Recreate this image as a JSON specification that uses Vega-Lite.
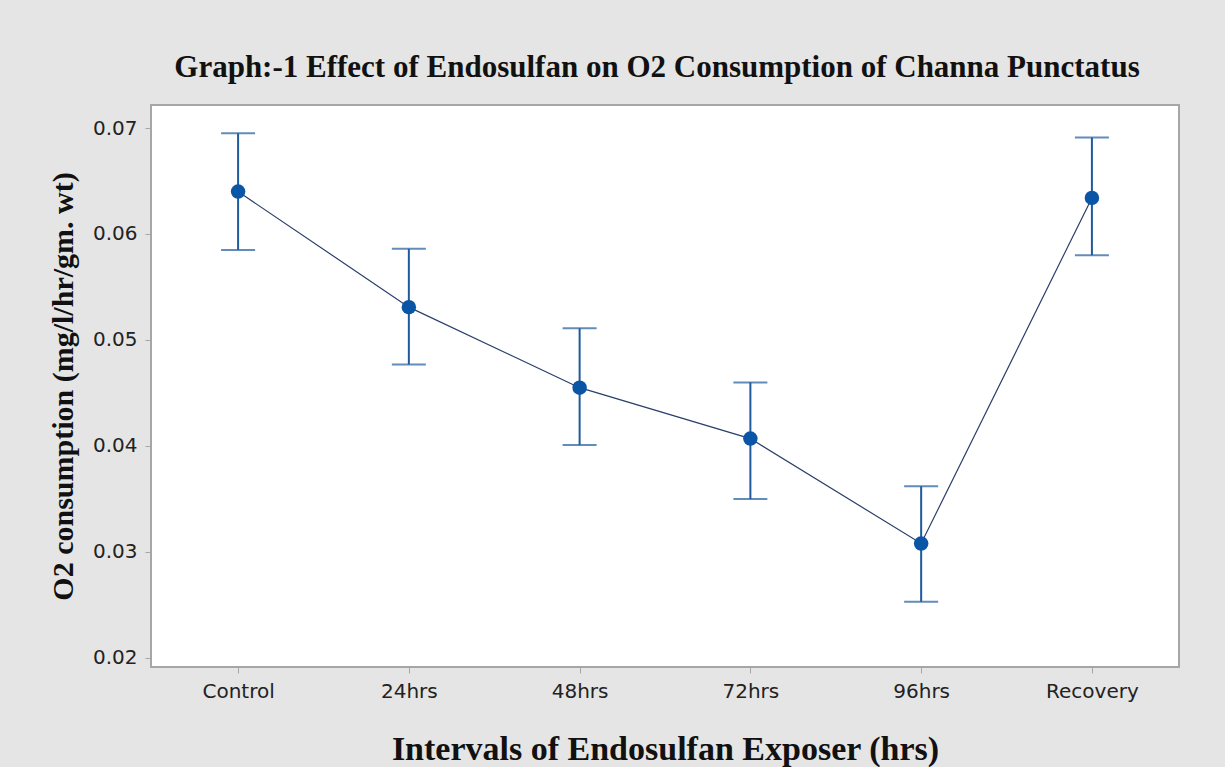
{
  "$schema": "https://vega.github.io/schema/vega-lite/v6.json",
  "autosize": {"type": "none"},
  "width": 1028,
  "height": 562,
  "padding": {"left": 151, "top": 105, "right": 46, "bottom": 100},
  "background": "#e5e5e5",
  "title": {
    "text": "Graph:-1 Effect of Endosulfan on O2 Consumption of Channa Punctatus",
    "font": "Liberation Serif",
    "fontSize": 31,
    "fontWeight": "bold",
    "color": "#111111",
    "anchor": "middle",
    "dx": -8,
    "offset": 21
  },
  "config": {
    "view": {"fill": "white", "stroke": "#a6a6a6", "strokeWidth": 2},
    "axis": {
      "labelFont": "DejaVu Sans",
      "labelFontSize": 20,
      "labelColor": "#222222",
      "tickColor": "#a6a6a6",
      "tickSize": 6,
      "domain": false,
      "grid": false,
      "titleFont": "Liberation Serif",
      "titleFontWeight": "bold",
      "titleColor": "#111111"
    }
  },
  "data": {
    "values": [
      {"interval": "Control", "mean": 0.0640, "lower": 0.0585, "upper": 0.0695},
      {"interval": "24hrs", "mean": 0.0531, "lower": 0.0477, "upper": 0.0586},
      {"interval": "48hrs", "mean": 0.0455, "lower": 0.0401, "upper": 0.0511},
      {"interval": "72hrs", "mean": 0.0407, "lower": 0.0350, "upper": 0.0460},
      {"interval": "96hrs", "mean": 0.0308, "lower": 0.0253, "upper": 0.0362},
      {"interval": "Recovery", "mean": 0.0634, "lower": 0.0580, "upper": 0.0691}
    ]
  },
  "encoding": {
    "x": {
      "field": "interval",
      "type": "ordinal",
      "sort": ["Control", "24hrs", "48hrs", "72hrs", "96hrs", "Recovery"],
      "scale": {"type": "point", "padding": 0.51},
      "axis": {
        "title": "Intervals of Endosulfan Exposer (hrs)",
        "titleFontSize": 34,
        "labelAngle": 0,
        "labelPadding": 8,
        "titlePadding": 31
      }
    }
  },
  "layer": [
    {
      "mark": {"type": "rule", "color": "#1f5b9c", "strokeWidth": 2},
      "encoding": {
        "y": {"field": "lower", "type": "quantitative"},
        "y2": {"field": "upper"}
      }
    },
    {
      "mark": {"type": "tick", "color": "#1f5b9c", "size": 34, "thickness": 2},
      "encoding": {
        "y": {"field": "upper", "type": "quantitative"}
      }
    },
    {
      "mark": {"type": "tick", "color": "#1f5b9c", "size": 34, "thickness": 2},
      "encoding": {
        "y": {"field": "lower", "type": "quantitative"}
      }
    },
    {
      "mark": {"type": "line", "color": "#2a3f6a", "strokeWidth": 1.2},
      "encoding": {
        "y": {"field": "mean", "type": "quantitative"}
      }
    },
    {
      "mark": {"type": "point", "filled": true, "color": "#0a55a6", "opacity": 1, "size": 210},
      "encoding": {
        "y": {
          "field": "mean",
          "type": "quantitative",
          "scale": {"domain": [0.01915, 0.07217], "nice": false, "zero": false},
          "axis": {
            "title": "O2 consumption (mg/l/hr/gm. wt)",
            "titleFontSize": 30,
            "values": [0.02, 0.03, 0.04, 0.05, 0.06, 0.07],
            "format": ".2f",
            "labelPadding": 8,
            "titlePadding": 14
          }
        }
      }
    }
  ]
}
